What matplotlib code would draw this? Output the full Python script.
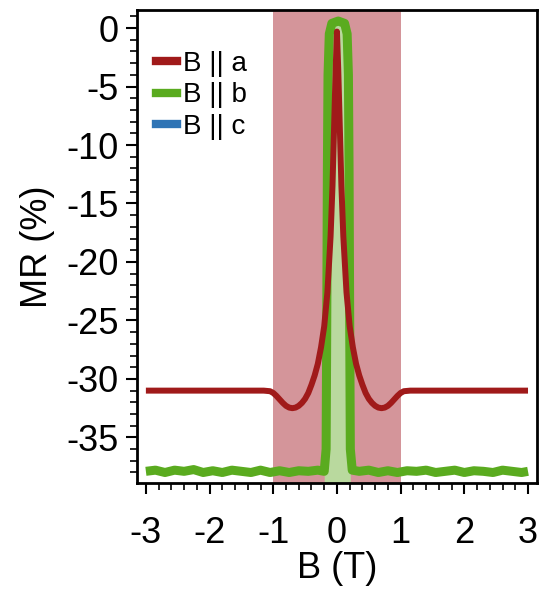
import numpy as np
import matplotlib
matplotlib.use("Agg")
import matplotlib.pyplot as plt
from matplotlib.lines import Line2D
from matplotlib.ticker import MultipleLocator

plt.rcParams['font.family'] = ['Liberation Sans', 'DejaVu Sans']
plt.rcParams['axes.unicode_minus'] = False

# B || a  (red curve)
b_a = [-3.0, -2.0, -1.15, -1.05, -1.0, -0.95, -0.9, -0.85, -0.8, -0.75, -0.7,
       -0.65, -0.6, -0.55, -0.5, -0.45, -0.4, -0.35, -0.3, -0.25, -0.2, -0.15,
       -0.1, -0.07, -0.04, -0.02, 0.0, 0.02, 0.04, 0.07, 0.1, 0.15, 0.2, 0.25,
       0.3, 0.35, 0.4, 0.45, 0.5, 0.55, 0.6, 0.65, 0.7, 0.75, 0.8, 0.85, 0.9,
       0.95, 1.0, 1.05, 1.15, 2.0, 3.0]
mr_a = [-31.0, -31.0, -31.0, -31.05, -31.2, -31.45, -31.75, -32.05, -32.3,
        -32.45, -32.5, -32.45, -32.3, -32.05, -31.7, -31.2, -30.5, -29.7,
        -28.7, -27.3, -25.5, -22.6, -17.8, -13.5, -7.5, -3.5, -0.3, -3.5, -7.5,
        -13.5, -17.8, -22.6, -25.5, -27.3, -28.7, -29.7, -30.5, -31.2, -31.7,
        -32.05, -32.3, -32.45, -32.5, -32.45, -32.3, -32.05, -31.75, -31.45,
        -31.2, -31.05, -31.0, -31.0, -31.0]

# B || b  (green curve)
b_b = [-3.0, -2.85, -2.7, -2.55, -2.4, -2.25, -2.1, -1.95, -1.8, -1.65, -1.5,
       -1.35, -1.2, -1.05, -0.9, -0.75, -0.6, -0.45, -0.3, -0.2,
       -0.17, -0.16, -0.15, -0.14, -0.12, -0.08, 0.02, 0.12, 0.16, 0.18,
       0.19, 0.2, 0.21, 0.24, 0.35, 0.5, 0.65, 0.8, 0.95, 1.1, 1.25, 1.4,
       1.55, 1.7, 1.85, 2.0, 2.15, 2.3, 2.45, 2.6, 2.75, 2.9, 3.0]
mr_b = [-37.9, -37.8, -38.0, -37.8, -37.9, -37.75, -38.0, -37.85, -38.0, -37.8,
        -37.9, -38.0, -37.8, -38.0, -37.85, -38.0, -37.85, -37.9, -37.8, -37.9,
        -36.0, -25.0, -12.0, -4.0, -0.5, 0.4, 0.6, 0.4, -0.5, -4.0,
        -12.0, -25.0, -36.0, -37.8, -37.9, -37.8, -38.0, -37.85, -38.0, -37.85,
        -37.9, -37.8, -38.0, -37.9, -37.8, -38.0, -37.85, -37.9, -38.0, -37.8,
        -37.9, -38.0, -37.9]

labels = ['B || a', 'B || b', 'B || c']
colors = ['#a01a1a', '#5aab1f', '#2f74b5']

fig = plt.figure(figsize=(5.49, 5.91), dpi=100)
ax = fig.add_axes([0.2495, 0.1827, 0.7285, 0.8003])

ymin, ymax = -38.9, 1.54
ax.axvspan(-1, 1, color='#d4959a', lw=0, zorder=0)

bb = np.array(b_b)
mb = np.array(mr_b)
ax.fill_between(bb, mb, ymin, where=np.abs(bb) <= 0.22, color='#b9d99e',
                lw=0, zorder=1)
ax.plot(b_b, mr_b, color=colors[1], lw=6.5, solid_capstyle='butt',
        solid_joinstyle='round', zorder=2)
ax.plot(b_a, mr_a, color=colors[0], lw=4.3, solid_capstyle='butt',
        solid_joinstyle='round', zorder=3)

ax.set_xlim(-3.14, 3.14)
ax.set_ylim(ymin, ymax)
ax.xaxis.set_major_locator(MultipleLocator(1))
ax.xaxis.set_minor_locator(MultipleLocator(0.2))
ax.yaxis.set_major_locator(MultipleLocator(5))
ax.yaxis.set_minor_locator(MultipleLocator(1))
ax.tick_params(which='major', direction='out', length=8, width=1.5,
               labelsize=26)
ax.tick_params(axis='y', which='major', pad=5)
ax.tick_params(axis='x', which='major', pad=16)
ax.tick_params(which='minor', direction='out', length=5, width=1.2)
for s in ax.spines.values():
    s.set_linewidth(2)

ax.set_xlabel('B (T)', fontsize=26, labelpad=0)
ax.set_ylabel('MR (%)', fontsize=26, labelpad=8)

handles = [Line2D([], [], color=c, lw=6) for c in colors]
ax.legend(handles, labels, loc='upper left', bbox_to_anchor=(0.0, 0.955),
          frameon=False, fontsize=20, handlelength=0.75, handletextpad=0.2,
          labelspacing=0.2, borderaxespad=0.3)

fig.savefig('out.png', dpi=100)
